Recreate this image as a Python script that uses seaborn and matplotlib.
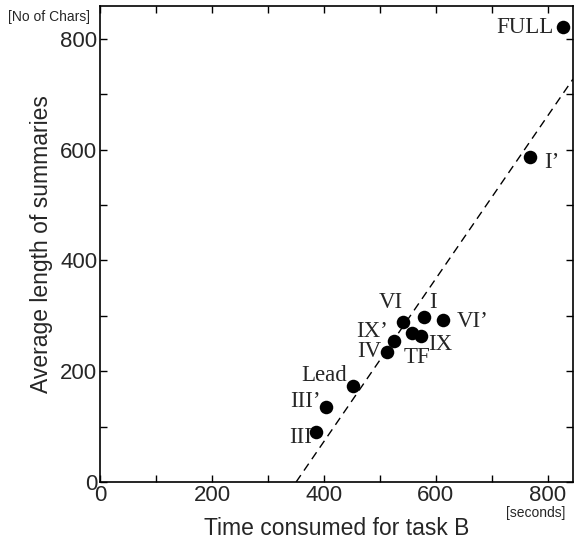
import matplotlib
matplotlib.use("Agg")
import matplotlib.pyplot as plt
from matplotlib.ticker import MultipleLocator
import seaborn as sns
import pandas as pd

# systems: time consumed for task B [s] vs average summary length [chars]
systems = ["FULL", "I’", "VI’", "I", "VI", "IX’", "TF", "IX", "IV", "Lead", "III’", "III"]
time_b = [827, 768, 612, 579, 541, 525, 557, 573, 512, 452, 404, 386]
avg_len = [821, 587, 292, 298, 289, 254, 269, 263, 235, 173, 135, 90]

# fitted trend line
line_slope = 1.47
line_intercept = -515

# label offsets (points) and alignment for each system
label_pos = {
    "FULL": (-7, 0, "right", "center"),
    "I’": (10, -4, "left", "center"),
    "VI’": (10, -1, "left", "center"),
    "I": (4, 10, "left", "center"),
    "VI": (-9, 14, "center", "center"),
    "IX’": (-4, 7, "right", "center"),
    "TF": (4, -18, "center", "center"),
    "IX": (5, -6, "left", "center"),
    "IV": (-4, 0, "right", "center"),
    "Lead": (-4, 8, "right", "center"),
    "III’": (-4, 4, "right", "center"),
    "III": (-3, -4, "right", "center"),
}

df = pd.DataFrame({"system": systems, "time": time_b, "length": avg_len})

sns.set_style("ticks")
plt.rcParams["font.family"] = ["Liberation Sans", "DejaVu Sans"]

fig = plt.figure(figsize=(5.75, 5.43), dpi=100)
ax = fig.add_axes([0.1739, 0.1123, 0.8226, 0.8767])

ax.axline((0, line_intercept), slope=line_slope, color="black", lw=1,
          linestyle=(0, (6, 4)), zorder=1)
sns.scatterplot(data=df, x="time", y="length", ax=ax, color="black",
                s=95, edgecolor="black", linewidth=0, zorder=3)

for name, x, y in zip(systems, time_b, avg_len):
    dx, dy, ha, va = label_pos[name]
    ax.annotate(name, (x, y), xytext=(dx, dy), textcoords="offset points",
                ha=ha, va=va, fontsize=16.5, family="Liberation Serif")

ax.set_xlim(0, 845)
ax.set_ylim(0, 859)
ax.xaxis.set_major_locator(MultipleLocator(200))
ax.xaxis.set_minor_locator(MultipleLocator(100))
ax.yaxis.set_major_locator(MultipleLocator(200))
ax.yaxis.set_minor_locator(MultipleLocator(100))
ax.tick_params(which="both", direction="in", top=True, right=True,
               length=5, width=1, color="black", labelsize=16, pad=2)
for sp in ax.spines.values():
    sp.set_linewidth(1.2)
    sp.set_color("black")

ax.set_xlabel("Time consumed for task B", fontsize=16.5, labelpad=8)
ax.set_ylabel("Average length of summaries", fontsize=16.5, labelpad=5)

fig.text(0.014, 0.969, "[No of Chars]", fontsize=10, ha="left", va="center")
fig.text(0.932, 0.056, "[seconds]", fontsize=10, ha="center", va="center")

plt.savefig("out.png", dpi=100)
